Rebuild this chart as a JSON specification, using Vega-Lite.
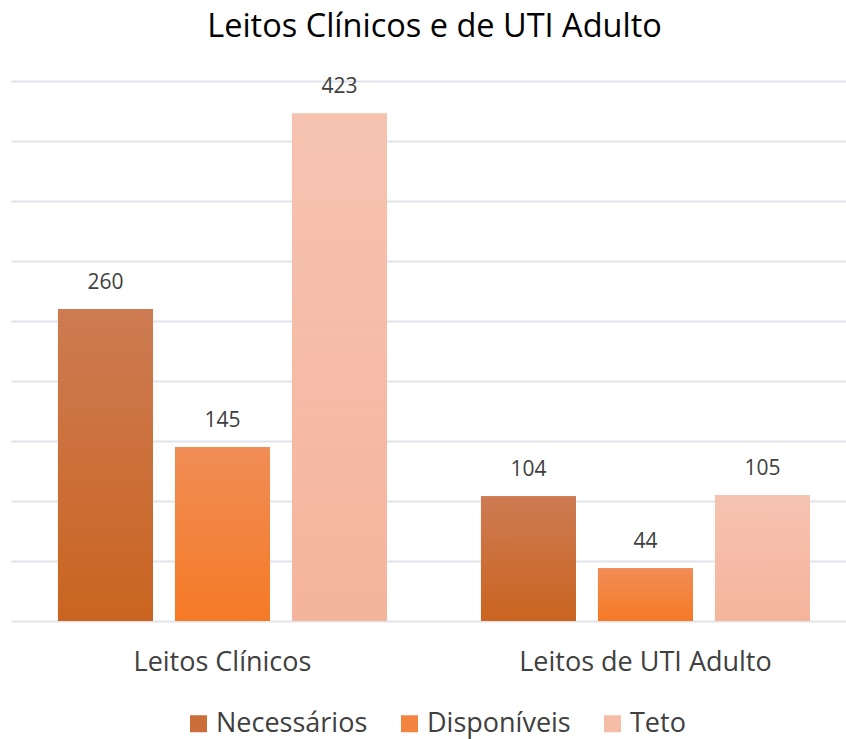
{
  "$schema": "https://vega.github.io/schema/vega-lite/v6.json",
  "width": 835,
  "height": 540,
  "autosize": "none",
  "padding": {"left": 11, "top": 81, "right": 0, "bottom": 118},
  "background": "white",
  "title": {
    "text": "Leitos Clínicos e de UTI Adulto",
    "font": "Open Sans",
    "fontSize": 32.5,
    "fontWeight": "normal",
    "color": "#000000",
    "baseline": "middle",
    "anchor": "middle",
    "frame": "group",
    "dx": 6,
    "offset": 17
  },
  "config": {
    "view": {"stroke": null},
    "font": "Open Sans"
  },
  "data": {
    "values": [
      {"cat": "Leitos Clínicos", "serie": "Necessários", "v": 260},
      {"cat": "Leitos Clínicos", "serie": "Disponíveis", "v": 145},
      {"cat": "Leitos Clínicos", "serie": "Teto", "v": 423},
      {"cat": "Leitos de UTI Adulto", "serie": "Necessários", "v": 104},
      {"cat": "Leitos de UTI Adulto", "serie": "Disponíveis", "v": 44},
      {"cat": "Leitos de UTI Adulto", "serie": "Teto", "v": 105}
    ]
  },
  "encoding": {
    "x": {
      "field": "cat",
      "type": "nominal",
      "sort": ["Leitos Clínicos", "Leitos de UTI Adulto"],
      "scale": {"paddingInner": 0.2222, "paddingOuter": 0.0981, "align": 0.566},
      "axis": {
        "title": null,
        "domain": false,
        "ticks": false,
        "tickSize": 0,
        "labelAngle": 0,
        "labelFont": "Open Sans",
        "labelFontSize": 27,
        "labelColor": "#404040",
        "labelBaseline": "middle",
        "labelPadding": 41,
        "labelLimit": 0
      }
    },
    "xOffset": {
      "field": "serie",
      "type": "nominal",
      "sort": ["Necessários", "Disponíveis", "Teto"],
      "scale": {"paddingInner": 0.188, "paddingOuter": 0}
    },
    "y": {
      "field": "v",
      "type": "quantitative",
      "scale": {"domain": [0, 450], "nice": false},
      "axis": {
        "title": null,
        "values": [0, 50, 100, 150, 200, 250, 300, 350, 400, 450],
        "labels": false,
        "ticks": false,
        "domain": false,
        "grid": true,
        "gridColor": "#E0E4EA",
        "gridWidth": 2
      }
    }
  },
  "layer": [
    {
      "mark": {"type": "bar"},
      "encoding": {
        "color": {
          "field": "serie",
          "type": "nominal",
          "sort": ["Necessários", "Disponíveis", "Teto"],
          "scale": {
            "domain": ["Necessários", "Disponíveis", "Teto"],
            "range": ["#CB6F3A", "#F2843F", "#F5BCA6"]
          },
          "legend": {
            "title": null,
            "orient": "none",
            "legendX": 174,
            "legendY": 629,
            "direction": "horizontal",
            "symbolType": "square",
            "symbolSize": 289,
            "symbolStrokeWidth": 0,
            "labelFont": "Open Sans",
            "labelFontSize": 27,
            "labelColor": "#404040",
            "labelOffset": 4,
            "columnPadding": 28
          }
        }
      }
    },
    {
      "transform": [{"filter": "datum.serie === 'Necessários'"}],
      "mark": {
        "type": "bar",
        "color": {
          "gradient": "linear", "x1": 0, "y1": 0, "x2": 0, "y2": 1,
          "stops": [{"offset": 0, "color": "#CD7B53"}, {"offset": 1, "color": "#CA6420"}]
        }
      }
    },
    {
      "transform": [{"filter": "datum.serie === 'Disponíveis'"}],
      "mark": {
        "type": "bar",
        "color": {
          "gradient": "linear", "x1": 0, "y1": 0, "x2": 0, "y2": 1,
          "stops": [{"offset": 0, "color": "#F08D56"}, {"offset": 1, "color": "#F57A26"}]
        }
      }
    },
    {
      "transform": [{"filter": "datum.serie === 'Teto'"}],
      "mark": {
        "type": "bar",
        "color": {
          "gradient": "linear", "x1": 0, "y1": 0, "x2": 0, "y2": 1,
          "stops": [{"offset": 0, "color": "#F6C3B1"}, {"offset": 1, "color": "#F5B49C"}]
        }
      }
    },
    {
      "mark": {
        "type": "text",
        "baseline": "middle",
        "dy": -26,
        "font": "Open Sans",
        "fontSize": 21,
        "color": "#404040"
      },
      "encoding": {
        "text": {"field": "v", "type": "quantitative"}
      }
    }
  ]
}
